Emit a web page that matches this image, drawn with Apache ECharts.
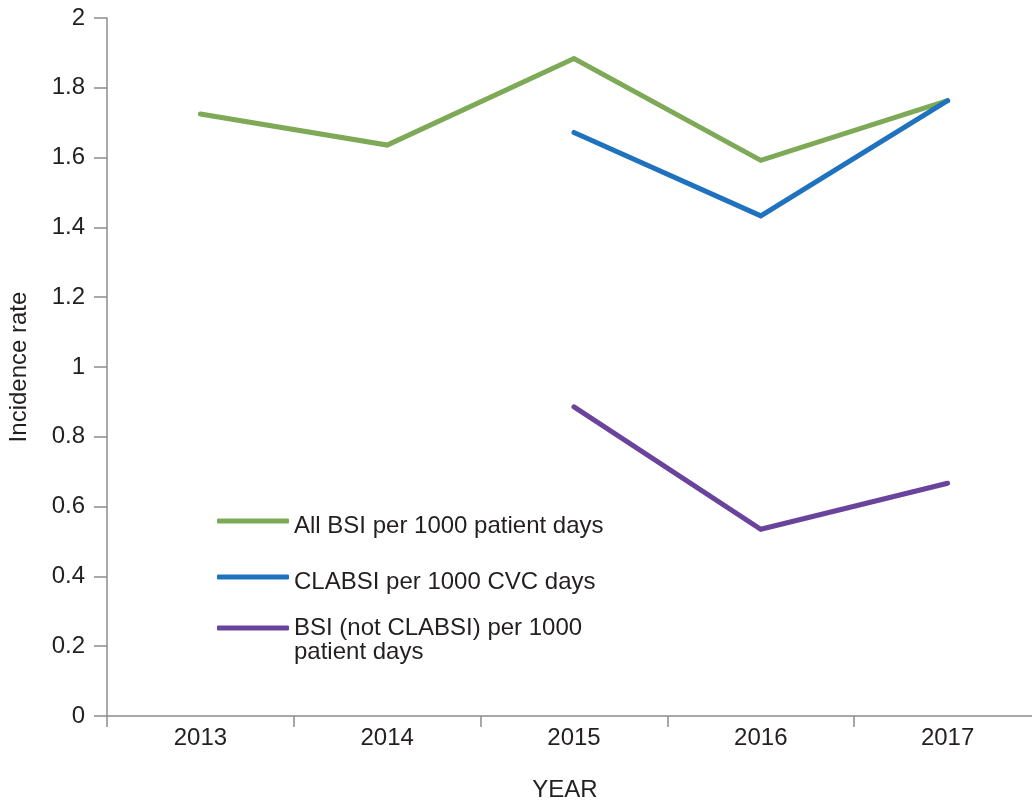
<!DOCTYPE html>
<html>
<head>
<meta charset="utf-8">
<title>Incidence rate by year</title>
<script src="https://cdn.jsdelivr.net/npm/echarts@6/dist/echarts.min.js"></script>
<style>
  html, body { margin: 0; padding: 0; background: #ffffff; overflow: hidden; }
  #chart { width: 1032px; height: 803px; }
</style>
</head>
<body>
<div id="chart"></div>
<script>
// Years on the category axis
const years = ['2013', '2014', '2015', '2016', '2017'];

// Incidence rates per series (null = not recorded that year)
const allBsi = [1.725, 1.636, 1.884, 1.592, 1.763];
const clabsi = [null, null, 1.672, 1.433, 1.763];
const bsiNotClabsi = [null, null, 0.886, 0.535, 0.667];

// Series names shown in the legend
const nameAll = 'All BSI per 1000 patient days';
const nameClabsi = 'CLABSI per 1000 CVC days';
const nameNot = 'BSI (not CLABSI) per 1000\npatient days';

const FONT = '"Liberation Sans", Arial, Helvetica, sans-serif';
const TEXT = '#231f20';
const AXIS = '#8c8c8c';
const FS = 24;

const chart = echarts.init(document.getElementById('chart'), null, { renderer: 'canvas' });

function lineSeries(name, data, color) {
  return {
    name: name,
    type: 'line',
    data: data,
    showSymbol: false,
    symbol: 'none',
    connectNulls: false,
    lineStyle: { color: color, width: 5, cap: 'round', join: 'miter' },
    itemStyle: { color: color },
    emphasis: { disabled: true },
    animation: false
  };
}

const legendText = {
  fontFamily: FONT, fontSize: FS, color: TEXT, lineHeight: 24,
  // text sits a little below its swatch
  rich: { t: { fontFamily: FONT, fontSize: FS, color: TEXT, lineHeight: 24, padding: [10, 0, 0, 0] } }
};

chart.setOption({
  backgroundColor: '#ffffff',
  animation: false,
  grid: { left: 107, top: 18, width: 934, height: 698, outerBoundsMode: 'none', containLabel: false },
  legend: [
    {
      orient: 'vertical',
      left: 212,
      top: 499,
      itemWidth: 72,
      itemHeight: 5,
      itemGap: 22,
      icon: 'roundRect',
      selectedMode: false,
      textStyle: legendText,
      formatter: function (n) { return '{t|' + n + '}'; },
      data: [nameAll, nameClabsi]
    },
    {
      // the wrapped entry keeps its swatch level with its first text line
      orient: 'vertical',
      left: 212,
      top: 587,
      itemWidth: 72,
      itemHeight: 5,
      icon: 'roundRect',
      selectedMode: false,
      textStyle: { fontFamily: FONT, fontSize: FS, color: TEXT, lineHeight: 24 },
      formatter: function (n) { return '\n' + n; },
      data: [nameNot]
    }
  ],
  xAxis: {
    type: 'category',
    data: years,
    boundaryGap: true,
    axisLine: { lineStyle: { color: AXIS, width: 1.5 } },
    axisTick: { show: true, length: 11, lineStyle: { color: AXIS, width: 1.5 } },
    axisLabel: { fontFamily: FONT, fontSize: FS, color: TEXT, margin: 10 },
    name: 'YEAR',
    nameLocation: 'middle',
    nameGap: 62,
    nameTextStyle: { fontFamily: FONT, fontSize: FS, color: TEXT, padding: [0, 18, 0, 0] }
  },
  yAxis: {
    type: 'value',
    min: 0,
    max: 2,
    interval: 0.2,
    splitLine: { show: false },
    axisLine: { show: true, lineStyle: { color: AXIS, width: 1.5 } },
    axisTick: { show: true, length: 13, lineStyle: { color: AXIS, width: 1.5 } },
    axisLabel: {
      fontFamily: FONT, fontSize: FS, color: TEXT, margin: 22,
      formatter: function (v) { return String(Math.round(v * 10) / 10); }
    },
    name: 'Incidence rate',
    nameLocation: 'middle',
    nameGap: 76,
    nameTextStyle: { fontFamily: FONT, fontSize: FS, color: TEXT }
  },
  series: [
    lineSeries(nameAll, allBsi, '#7eaa57'),
    lineSeries(nameClabsi, clabsi, '#1f72bd'),
    lineSeries(nameNot, bsiNotClabsi, '#6a449c')
  ]
});
</script>
</body>
</html>
